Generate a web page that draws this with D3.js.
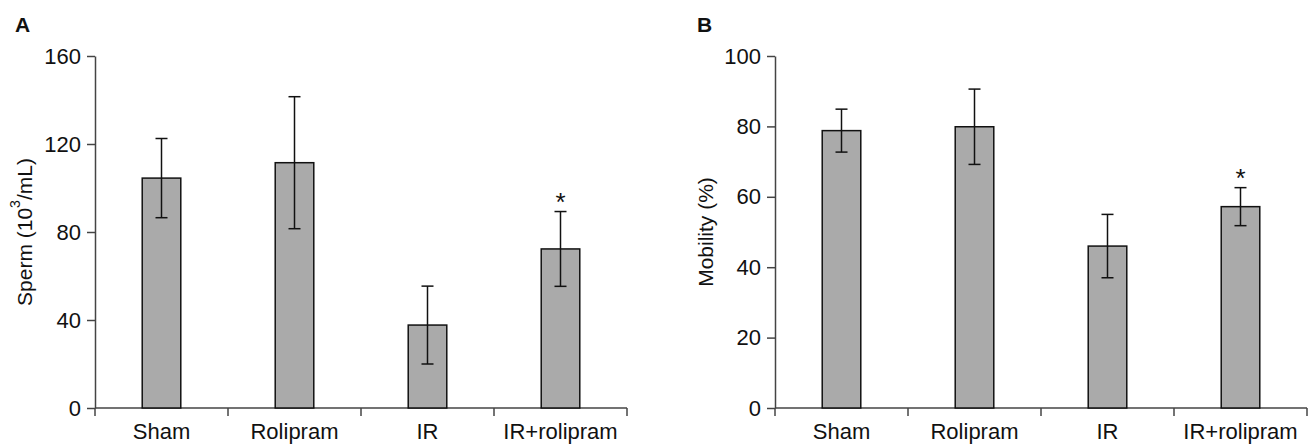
<!DOCTYPE html>
<html><head><meta charset="utf-8">
<script src="https://cdn.jsdelivr.net/npm/d3@7"></script>
<style>body{margin:0;background:#fff}svg{display:block}text{font-family:"Liberation Sans",Arial,sans-serif}</style>
</head><body>
<svg id="c" width="1312" height="444"></svg>
<script>
const categories = ["Sham","Rolipram","IR","IR+rolipram"];
const spermMean = [104.5, 111.5, 37.7, 72.3];
const spermErr  = [18, 30, 17.7, 17];
const mobilityMean = [78.8, 79.9, 46.0, 57.2];
const mobilityErr  = [6.1, 10.7, 9, 5.4];
const spermTicks = [0, 40, 80, 120, 160];
const mobilityTicks = [0, 20, 40, 60, 80, 100];
const significant = [false, false, false, true];

const svg = d3.select("#c");
const axisColor = "#444";
const FS = 22;

function panel(opt){
  const g = svg.append("g");
  const x = d3.scaleBand().domain(categories).range([opt.x0, opt.x1]).padding(0);
  const y = d3.scaleLinear().domain([0, opt.max]).range([408, 56]);
  const bw = x.bandwidth()*0.29;

  // y axis
  const ya = g.append("g").attr("transform",`translate(${opt.x0},0)`)
    .call(d3.axisLeft(y).tickValues(opt.ticks).tickSize(8).tickPadding(6).tickSizeOuter(0));
  ya.select(".domain").attr("stroke",axisColor).attr("stroke-width",1.5);
  ya.selectAll(".tick line").attr("stroke",axisColor).attr("stroke-width",1.5);
  ya.selectAll(".tick text").attr("font-size",FS).attr("fill","#111")
    .attr("font-family",'"Liberation Sans",Arial,sans-serif');

  // x axis line + boundary ticks
  g.append("line").attr("x1",opt.x0).attr("x2",opt.x1).attr("y1",y(0)).attr("y2",y(0))
    .attr("stroke",axisColor).attr("stroke-width",1.5);
  const bounds = categories.map(c=>x(c)).concat([opt.x1]);
  g.selectAll(".xt").data(bounds).join("line")
    .attr("x1",d=>d).attr("x2",d=>d).attr("y1",y(0)).attr("y2",y(0)+8)
    .attr("stroke",axisColor).attr("stroke-width",1.5);
  g.selectAll(".xl").data(categories).join("text")
    .attr("x",d=>x(d)+x.bandwidth()/2).attr("y",439)
    .attr("text-anchor","middle").attr("font-size",FS).attr("fill","#111").text(d=>d);

  // bars
  g.selectAll(".bar").data(categories).join("rect")
    .attr("x",d=>x(d)+x.bandwidth()/2-bw/2).attr("width",bw)
    .attr("y",(d,i)=>y(opt.mean[i])).attr("height",(d,i)=>y(0)-y(opt.mean[i]))
    .attr("fill","#aaaaaa").attr("stroke","#111").attr("stroke-width",1.5);

  // error bars
  const eb = g.selectAll(".eb").data(categories).join("g");
  eb.append("line").attr("x1",d=>x(d)+x.bandwidth()/2).attr("x2",d=>x(d)+x.bandwidth()/2)
    .attr("y1",(d,i)=>y(opt.mean[i]+opt.err[i])).attr("y2",(d,i)=>y(opt.mean[i]-opt.err[i]))
    .attr("stroke","#111").attr("stroke-width",1.5);
  [1,-1].forEach(s=>{
    eb.append("line").attr("x1",d=>x(d)+x.bandwidth()/2-6).attr("x2",d=>x(d)+x.bandwidth()/2+6)
      .attr("y1",(d,i)=>y(opt.mean[i]+s*opt.err[i])).attr("y2",(d,i)=>y(opt.mean[i]+s*opt.err[i]))
      .attr("stroke","#111").attr("stroke-width",1.5);
  });

  // significance
  g.selectAll(".star").data(categories.filter((c,i)=>significant[i])).join("text")
    .attr("x",d=>x(d)+x.bandwidth()/2)
    .attr("y",d=>{const i=categories.indexOf(d);return y(opt.mean[i]+opt.err[i])-1;})
    .attr("text-anchor","middle").attr("font-size",26).attr("fill","#111").text("*");

  // axis title
  const t = g.append("text").attr("transform",`translate(${opt.tx},${(y(0)+y(opt.max))/2}) rotate(-90)`)
    .attr("text-anchor","middle").attr("dominant-baseline","central").attr("font-size",21).attr("fill","#111");
  opt.title(t);

  // panel letter
  g.append("text").attr("x",opt.lx).attr("y",32).attr("font-size",21).attr("font-weight","bold")
    .attr("fill","#111").text(opt.letter);
}

panel({x0:95, x1:627, max:160, ticks:spermTicks, mean:spermMean, err:spermErr, tx:24, lx:15, letter:"A",
  title:t=>{t.append("tspan").text("Sperm (10");
    t.append("tspan").attr("font-size",14).attr("dy",-9).text("3");
    t.append("tspan").attr("dy",9).text("/mL)");}});
panel({x0:775, x1:1307, max:100, ticks:mobilityTicks, mean:mobilityMean, err:mobilityErr, tx:705, lx:697, letter:"B",
  title:t=>t.text("Mobility (%)")});
</script>
</body></html>
